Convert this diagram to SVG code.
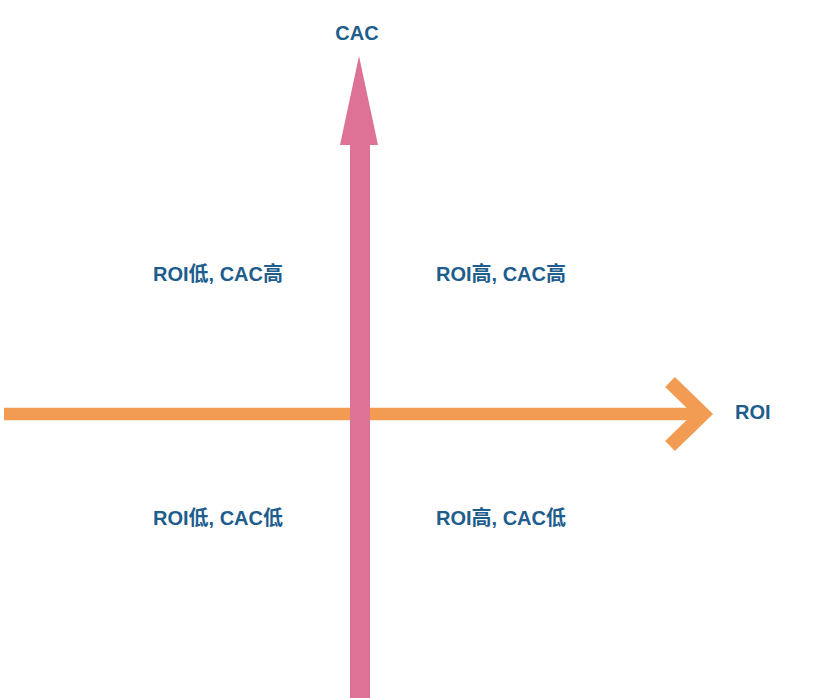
<svg xmlns="http://www.w3.org/2000/svg" width="828" height="698" viewBox="0 0 828 698">
<style>
.t{font-family:"Liberation Sans","Noto Sans CJK SC",sans-serif;font-size:20px;font-weight:bold;fill:#1e5d8c}
</style>
<rect width="828" height="698" fill="#ffffff"/>
<g id="connectors">
<g id="roi-axis">
<line x1="4" y1="414" x2="702" y2="414" stroke="#f29c53" stroke-width="12.5"/>
<polyline points="670,382 703,414 670,446" fill="none" stroke="#f29c53" stroke-width="14"/>
</g>
<g id="cac-axis">
<rect x="350" y="140" width="20" height="558" fill="#de7196"/>
<polygon points="359,56 378,145 340,145" fill="#de7196"/>
</g>
</g>
<g id="label-cac"><text class="t" x="357" y="40" text-anchor="middle">CAC</text></g>
<g id="label-roi"><text class="t" x="735" y="419">ROI</text></g>
<g id="q-tl"><text class="t" x="153" y="281">ROI低, CAC高</text></g>
<g id="q-tr"><text class="t" x="436" y="281">ROI高, CAC高</text></g>
<g id="q-bl"><text class="t" x="153" y="525">ROI低, CAC低</text></g>
<g id="q-br"><text class="t" x="436" y="525">ROI高, CAC低</text></g>
</svg>
